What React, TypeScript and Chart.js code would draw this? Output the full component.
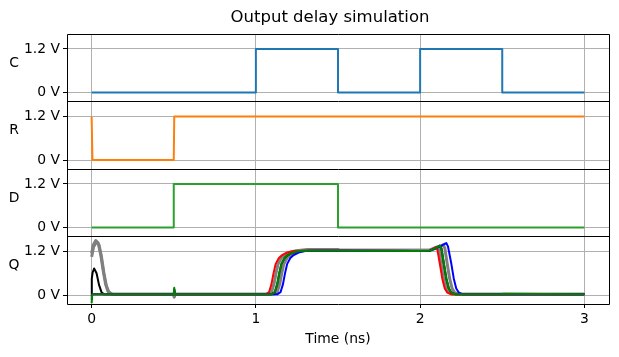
import { useEffect, useRef } from 'react';
import { Chart, registerables } from 'chart.js';

Chart.register(...registerables);

const chartTitle = 'Output delay simulation';
const xAxisLabel = 'Time (ns)';
const panelNames = ['C', 'R', 'D', 'Q'];
const panelIds = ['yC', 'yR', 'yD', 'yQ'];
const xTickValues = [0, 1, 2, 3];
const yTickValues = [0, 1.2];
const yTickLabels = ['0 V', '1.2 V'];

// Input waveforms
const cT = [0, 1, 1, 1.5, 1.5, 2, 2, 2.5, 2.5, 3];
const cV = [0, 0, 1.2, 1.2, 0, 0, 1.2, 1.2, 0, 0];
const rT = [0, 0.005, 0.5, 0.503, 3];
const rV = [1.2, 0, 0, 1.2, 1.2];
const dT = [0, 0.5, 0.5, 1.5, 1.5, 3];
const dV = [0, 0, 1.2, 1.2, 0, 0];

// Output Q traces
const qGreyAT = [0, 0.01, 0.025, 0.04, 0.055, 0.07, 0.085, 0.1, 0.12, 0.15, 0.5, 0.503, 0.508, 1.0, 1.075, 1.095, 1.11, 1.122, 1.135, 1.155, 1.175, 1.205, 1.245, 1.315, 1.5, 1.51, 2.0, 2.06, 2.09, 2.107, 2.117, 2.132, 2.147, 2.162, 2.177, 2.2, 3.0];
const qGreyAV = [1.15, 1.38, 1.5, 1.43, 1.12, 0.68, 0.3, 0.1, 0.03, 0.02, 0.02, -0.05, 0.02, 0.02, 0.02, 0.08, 0.3, 0.59, 0.85, 1.02, 1.1, 1.17, 1.22, 1.25, 1.25, 1.23, 1.23, 1.24, 1.3, 1.33, 1.26, 0.86, 0.45, 0.18, 0.07, 0.02, 0.02];
const qGreyBT = [0, 0.012, 0.03, 0.045, 0.06, 0.075, 0.09, 0.105, 0.125, 0.16, 0.5, 0.503, 0.508, 1.0, 1.11, 1.13, 1.145, 1.157, 1.17, 1.19, 1.21, 1.24, 1.28, 1.35, 1.5, 1.51, 2.0, 2.06, 2.11, 2.14, 2.15, 2.165, 2.18, 2.195, 2.21, 2.235, 3.0];
const qGreyBV = [1.05, 1.33, 1.46, 1.38, 1.05, 0.6, 0.25, 0.08, 0.03, 0.02, 0.02, -0.05, 0.02, 0.02, 0.02, 0.08, 0.3, 0.59, 0.85, 1.02, 1.1, 1.17, 1.22, 1.25, 1.25, 1.23, 1.23, 1.24, 1.3, 1.38, 1.3, 0.86, 0.45, 0.18, 0.07, 0.02, 0.02];
const qBlackT = [0, 0.001, 0.006, 0.015, 0.03, 0.045, 0.06, 0.075, 0.5, 1.0, 1.095, 1.115, 1.13, 1.142, 1.155, 1.175, 1.195, 1.225, 1.265, 1.335, 2.0, 2.06, 2.1, 2.12, 2.13, 2.145, 2.16, 2.175, 2.19, 2.215, 3.0];
const qBlackV = [-0.12, 0.45, 0.62, 0.73, 0.6, 0.28, 0.08, 0.02, 0.02, 0.02, 0.02, 0.08, 0.3, 0.59, 0.85, 1.02, 1.1, 1.17, 1.21, 1.22, 1.21, 1.22, 1.3, 1.36, 1.28, 0.86, 0.45, 0.18, 0.07, 0.02, 0.02];
const qRedT = [0, 0.01, 0.5, 0.503, 0.508, 1.0, 1.06, 1.08, 1.095, 1.107, 1.12, 1.14, 1.16, 1.19, 1.23, 1.3, 1.5, 2.0, 2.06, 2.08, 2.095, 2.105, 2.12, 2.135, 2.15, 2.165, 2.19, 2.5, 3.0];
const qRedV = [0.02, 0.02, 0.02, 0.15, 0.02, 0.02, 0.02, 0.08, 0.3, 0.59, 0.85, 1.02, 1.1, 1.17, 1.21, 1.22, 1.22, 1.21, 1.22, 1.28, 1.32, 1.25, 0.86, 0.45, 0.18, 0.07, 0.02, 0.02, 0.02];
const qBlueT = [0, 0.01, 0.5, 0.503, 0.508, 1.0, 1.13, 1.15, 1.165, 1.177, 1.19, 1.21, 1.23, 1.26, 1.3, 1.37, 1.5, 2.0, 2.06, 2.12, 2.15, 2.16, 2.17, 2.19, 2.205, 2.22, 2.235, 2.26, 2.5, 3.0];
const qBlueV = [0.02, 0.02, 0.02, 0.15, 0.02, 0.02, 0.02, 0.08, 0.3, 0.59, 0.85, 1.02, 1.1, 1.17, 1.21, 1.22, 1.22, 1.21, 1.22, 1.33, 1.41, 1.43, 1.33, 0.86, 0.45, 0.18, 0.07, 0.02, 0.02, 0.02];
const qGreenT = [0, 0.003, 0.01, 0.5, 0.503, 0.508, 1.0, 1.095, 1.115, 1.13, 1.142, 1.155, 1.175, 1.195, 1.225, 1.265, 1.335, 1.5, 2.0, 2.06, 2.1, 2.12, 2.13, 2.145, 2.16, 2.175, 2.19, 2.215, 2.5, 2.505, 3.0];
const qGreenV = [-0.22, 0.0, 0.02, 0.02, 0.2, 0.02, 0.02, 0.02, 0.08, 0.3, 0.59, 0.85, 1.02, 1.1, 1.17, 1.21, 1.22, 1.22, 1.21, 1.22, 1.3, 1.36, 1.28, 0.86, 0.45, 0.18, 0.07, 0.02, 0.02, 0.04, 0.02];

const FONT = 'DejaVu Sans';
const FS = 13.9;

const pts = (t: number[], v: number[]) => t.map((x, i) => ({ x, y: v[i] }));

const line = (t: number[], v: number[], color: string, yAxisID: string, width: number, order: number) => ({
  data: pts(t, v),
  borderColor: color,
  backgroundColor: color,
  borderWidth: width,
  pointRadius: 0,
  tension: 0,
  fill: false,
  yAxisID,
  order,
  borderJoinStyle: 'round' as const,
});

const yScale = () => ({
  type: 'linear' as const,
  position: 'left' as const,
  stack: 'panels',
  stackWeight: 1,
  min: -0.245,
  max: 1.61,
  afterBuildTicks: (s: any) => {
    s.ticks = yTickValues.map((v) => ({ value: v }));
  },
  afterFit: (s: any) => {
    s.width = 67;
  },
  ticks: {
    color: '#000',
    padding: 3,
    font: { family: FONT, size: FS },
    callback: (v: any) => {
      const i = yTickValues.indexOf(Number(v));
      return i >= 0 ? yTickLabels[i] : '';
    },
  },
  grid: { color: '#b0b0b0', lineWidth: 1, tickColor: '#000', tickLength: 4 },
  border: { display: false },
});

const framePlugin = {
  id: 'panelFrames',
  afterDraw(chart: any) {
    const ctx = chart.ctx as CanvasRenderingContext2D;
    const { left, right, top, bottom } = chart.chartArea;
    const L = Math.floor(left) + 0.5;
    const R = Math.floor(right) + 0.5;
    const T = Math.floor(top) + 0.5;
    const B = Math.floor(bottom) + 0.5;
    ctx.save();
    ctx.strokeStyle = '#000';
    ctx.lineWidth = 1;
    ctx.beginPath();
    ctx.moveTo(L, T);
    ctx.lineTo(L, B);
    ctx.moveTo(R, T);
    ctx.lineTo(R, B);
    ctx.moveTo(L, B);
    ctx.lineTo(R, B);
    panelIds.forEach((id) => {
      const s = chart.scales[id];
      const y = Math.floor(s.top) + 0.5;
      ctx.moveTo(L, y);
      ctx.lineTo(R, y);
    });
    ctx.stroke();
    ctx.fillStyle = '#000';
    ctx.font = `${FS}px "${FONT}"`;
    ctx.textAlign = 'center';
    ctx.textBaseline = 'alphabetic';
    panelIds.forEach((id, i) => {
      const s = chart.scales[id];
      ctx.fillText(panelNames[i], 14, (s.top + s.bottom) / 2 - 1);
    });
    ctx.font = `16.5px "${FONT}"`;
    ctx.fillText(chartTitle, 330, 22);
    ctx.restore();
  },
};

export default function App() {
  const ref = useRef<HTMLCanvasElement>(null);
  useEffect(() => {
    if (!ref.current) return;
    const chart = new Chart(ref.current, {
      type: 'line',
      data: {
        datasets: [
          line(cT, cV, '#1f77b4', 'yC', 2, 1),
          line(rT, rV, '#ff7f0e', 'yR', 2, 1),
          line(dT, dV, '#2ca02c', 'yD', 2, 1),
          line(qGreyAT, qGreyAV, '#808080', 'yQ', 3, 10),
          line(qGreyBT, qGreyBV, '#808080', 'yQ', 3, 10),
          line(qBlackT, qBlackV, '#000000', 'yQ', 2, 8),
          line(qRedT, qRedV, '#ff0000', 'yQ', 2, 6),
          line(qBlueT, qBlueV, '#0000ff', 'yQ', 2, 5),
          line(qGreenT, qGreenV, '#008000', 'yQ', 2, 4),
        ] as any,
      },
      options: {
        animation: false,
        responsive: false,
        parsing: false as any,
        layout: { padding: { left: 0, right: 10, top: 34, bottom: 0 } },
        plugins: { legend: { display: false }, tooltip: { enabled: false }, title: { display: false } },
        scales: {
          x: {
            type: 'linear',
            min: -0.15,
            max: 3.15,
            afterBuildTicks: (s: any) => {
              s.ticks = xTickValues.map((v) => ({ value: v }));
            },
            afterFit: (s: any) => {
              s.height = 53;
            },
            ticks: {
              color: '#000',
              padding: 3,
              maxRotation: 0,
              autoSkip: false,
              font: { family: FONT, size: FS },
              callback: (v: any) => String(v),
            },
            grid: { color: '#b0b0b0', lineWidth: 1, tickColor: '#000', tickLength: 4 },
            border: { display: false },
            title: {
              display: true,
              text: xAxisLabel,
              color: '#000',
              font: { family: FONT, size: FS },
              padding: { top: 0, bottom: 9 },
            },
          },
          yQ: yScale(),
          yD: yScale(),
          yR: yScale(),
          yC: yScale(),
        } as any,
      },
      plugins: [framePlugin],
    });
    return () => chart.destroy();
  }, []);
  return (
    <div style={{ position: 'fixed', left: 0, top: 0, width: 619, height: 357, background: '#fff' }}>
      <canvas ref={ref} width={619} height={357} style={{ display: 'block' }} />
    </div>
  );
}
